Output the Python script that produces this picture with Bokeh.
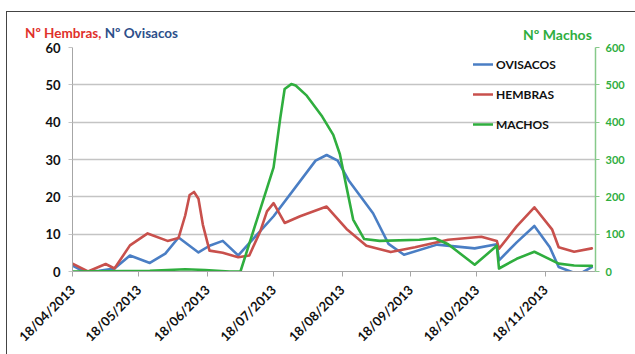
import math
import pandas as pd
from bokeh.plotting import figure
from bokeh.layouts import column
from bokeh.models import (Range1d, LinearAxis, FixedTicker, DatetimeTickFormatter,
                          Legend, LegendItem, Div)
from bokeh.embed import file_html
from bokeh.resources import INLINE

# ---------------- data ----------------
tick_dates = ["2013-04-18", "2013-05-18", "2013-06-18", "2013-07-18",
              "2013-08-18", "2013-09-18", "2013-10-18", "2013-11-18"]

hembras_dates = ["2013-04-18", "2013-04-25", "2013-05-03", "2013-05-07", "2013-05-14",
                 "2013-05-22", "2013-05-31", "2013-06-05", "2013-06-08", "2013-06-10",
                 "2013-06-12", "2013-06-14", "2013-06-16", "2013-06-19", "2013-06-25",
                 "2013-07-02", "2013-07-07", "2013-07-12", "2013-07-15", "2013-07-18",
                 "2013-07-23", "2013-07-30", "2013-08-11", "2013-08-20", "2013-08-29",
                 "2013-09-09", "2013-09-20", "2013-10-05", "2013-10-20", "2013-10-27",
                 "2013-10-28", "2013-11-05", "2013-11-13", "2013-11-21", "2013-11-24",
                 "2013-12-01", "2013-12-09"]
hembras = [2.1, 0.0, 2.0, 0.8, 7.0,
           10.2, 8.2, 9.0, 15.0, 20.5,
           21.3, 19.5, 12.5, 5.6, 5.0,
           3.8, 4.3, 10.8, 16.1, 18.3,
           13.0, 14.8, 17.4, 11.4, 6.9,
           5.2, 6.5, 8.5, 9.3, 8.2,
           6.1, 12.1, 17.2, 11.3, 6.5,
           5.3, 6.2]

ovisacos_dates = ["2013-04-18", "2013-04-23", "2013-04-30", "2013-05-07", "2013-05-14",
                  "2013-05-23", "2013-05-30", "2013-06-05", "2013-06-14", "2013-06-19",
                  "2013-06-25", "2013-07-02", "2013-07-18", "2013-08-06", "2013-08-11",
                  "2013-08-16", "2013-08-21", "2013-09-01", "2013-09-08", "2013-09-15",
                  "2013-09-30", "2013-10-17", "2013-10-27", "2013-10-28", "2013-11-05",
                  "2013-11-13", "2013-11-20", "2013-11-24", "2013-12-03", "2013-12-09"]
ovisacos = [1.6, 0.0, 0.2, 0.8, 4.3,
            2.3, 4.8, 9.1, 5.1, 6.9,
            8.2, 4.3, 14.8, 29.7, 31.2,
            29.7, 24.4, 15.6, 7.4, 4.5,
            7.2, 6.2, 7.3, 3.0, 7.8,
            12.2, 6.5, 1.2, -0.8, 1.2]

machos_dates = ["2013-04-18", "2013-05-23", "2013-06-08", "2013-06-17", "2013-06-28",
                "2013-07-03", "2013-07-18", "2013-07-21", "2013-07-23", "2013-07-26",
                "2013-07-28", "2013-08-02", "2013-08-09", "2013-08-14", "2013-08-17",
                "2013-08-20", "2013-08-23", "2013-08-28", "2013-09-04", "2013-09-22",
                "2013-09-29", "2013-10-05", "2013-10-17", "2013-10-27", "2013-10-28",
                "2013-11-05", "2013-11-13", "2013-11-24", "2013-12-01", "2013-12-09"]
machos = [0, 2, 6, 4, 0,
          0, 279, 410, 489, 502,
          498, 471, 415, 366, 314,
          226, 139, 87, 82, 85,
          89, 73, 18, 69, 8,
          34, 53, 21, 16, 15]

left_ticks = [0, 10, 20, 30, 40, 50, 60]
right_ticks = [0, 100, 200, 300, 400, 500, 600]

# ---------------- styling ----------------
BLUE = "#4a7ec4"
RED = "#c8504c"
GREEN = "#2fae3e"
GREEN_AXIS = "#86c98a"
FONT = "Lato"

x_start = pd.Timestamp("2013-04-18")
x_end = pd.Timestamp("2013-12-10 16:00")

p = figure(width=635, height=315, x_axis_type="datetime",
           output_backend="svg", toolbar_location=None,
           x_range=Range1d(x_start, x_end), y_range=Range1d(0, 60),
           min_border_left=72, min_border_right=40,
           min_border_top=9, min_border_bottom=77, margin=0)
p.outline_line_color = None
p.background_fill_color = "white"
p.border_fill_color = None
p.extra_y_ranges = {"machos": Range1d(0, 600)}

# grid
p.xgrid.grid_line_color = None
p.ygrid.grid_line_color = "#c4c4c4"
p.ygrid.grid_line_width = 1.5
p.ygrid.ticker = FixedTicker(ticks=left_ticks)

# x axis
xa = p.xaxis[0]
xa.ticker = FixedTicker(ticks=[pd.Timestamp(d).value / 1e6 for d in tick_dates])
fmt = "%d/%m/%Y"
xa.formatter = DatetimeTickFormatter(milliseconds=fmt, seconds=fmt, minsec=fmt, minutes=fmt,
                                     hourmin=fmt, hours=fmt, days=fmt, months=fmt, years=fmt)
xa.major_label_orientation = math.pi / 4
xa.major_label_text_font = FONT
xa.major_label_text_font_style = "bold"
xa.major_label_text_font_size = "13px"
xa.major_label_text_color = "#111111"
xa.axis_line_color = "#a6a6a6"
xa.major_tick_line_color = "#a6a6a6"
xa.major_tick_out = 5
xa.major_tick_in = 0
xa.minor_tick_line_color = None
xa.major_label_standoff = 11

# left axis
ya = p.yaxis[0]
ya.ticker = FixedTicker(ticks=left_ticks)
ya.major_label_text_font = FONT
ya.major_label_text_font_style = "bold"
ya.major_label_text_font_size = "13px"
ya.major_label_text_color = "#111111"
ya.axis_line_color = "#a6a6a6"
ya.major_tick_line_color = "#c4c4c4"
ya.major_tick_out = 4
ya.major_tick_in = 0
ya.minor_tick_line_color = None
ya.major_label_standoff = 8

# right axis
ra = LinearAxis(y_range_name="machos", ticker=FixedTicker(ticks=right_ticks))
ra.major_label_text_font = FONT
ra.major_label_text_font_style = "bold"
ra.major_label_text_font_size = "11px"
ra.major_label_text_color = GREEN
ra.axis_line_color = GREEN_AXIS
ra.axis_line_width = 1.5
ra.major_tick_line_color = GREEN_AXIS
ra.major_tick_out = 4
ra.major_tick_in = 0
ra.minor_tick_line_color = None
ra.major_label_standoff = 6
p.add_layout(ra, "right")

# lines
lw = 2.6
r_ov = p.line(pd.to_datetime(ovisacos_dates), ovisacos, line_color=BLUE, line_width=lw,
              line_join="round", line_cap="round")
r_he = p.line(pd.to_datetime(hembras_dates), hembras, line_color=RED, line_width=lw,
              line_join="round", line_cap="round")
r_ma = p.line(pd.to_datetime(machos_dates), machos, line_color=GREEN, line_width=lw,
              line_join="round", line_cap="round", y_range_name="machos")

legend = Legend(items=[LegendItem(label="OVISACOS", renderers=[r_ov]),
                       LegendItem(label="HEMBRAS", renderers=[r_he]),
                       LegendItem(label="MACHOS", renderers=[r_ma])],
                location=(401, 137), orientation="vertical",
                glyph_width=20, glyph_height=20, label_height=20,
                spacing=10, padding=0, margin=0, label_standoff=3,
                border_line_color=None, background_fill_alpha=0,
                label_text_font=FONT, label_text_font_style="bold",
                label_text_font_size="12px", label_text_color="#111111")
p.add_layout(legend, "center")

# titles above the plot (two-coloured left title, green right title) + picture border
title_html = (
    '<div style="position:relative;width:635px;height:38px;'
    "font-family:'Lato',sans-serif;font-weight:bold;font-size:13.5px;line-height:14px;\">"
    '<div style="position:absolute;left:6px;top:11px;width:629px;height:343px;'
    'border-top:1px solid #444;border-left:1px solid #444;"></div>'
    '<span style="position:absolute;left:25px;top:26px;white-space:nowrap;">'
    '<span style="color:#e0302a;">Nº Hembras, </span>'
    '<span style="color:#2d4f8a;">Nº Ovisacos</span></span>'
    '<span style="position:absolute;left:523px;top:28px;color:#2fae3e;white-space:nowrap;'
    'font-size:14px;">Nº Machos</span>'
    '</div>'
)
title_div = Div(text=title_html, width=635, height=38, margin=0)

layout = column(title_div, p, spacing=0)
open("out.html", "w").write(file_html(layout, INLINE))
